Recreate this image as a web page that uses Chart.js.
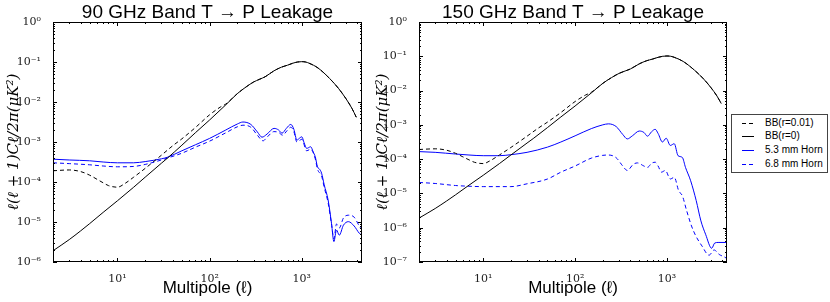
<!DOCTYPE html>
<html>
<head>
<meta charset="utf-8">
<script src="https://cdn.jsdelivr.net/npm/chart.js@4.4.1/dist/chart.umd.min.js"></script>
<style>
html, body { margin: 0; padding: 0; background: #fff; }
#wrap { position: relative; width: 830px; height: 302px; overflow: hidden; }
#c90 { position: absolute; left: 0; top: 0; }
#c150 { position: absolute; left: 364px; top: 0; }
#legend { position: absolute; left: 731px; top: 114px; width: 95px; height: 57px; border: 1px solid #444; background: #fff;
  font-family: "Liberation Sans", Arial, sans-serif; font-size: 10px; color: #000; }
#legend .row { position: absolute; left: 0; height: 12px; line-height: 12px; white-space: nowrap; }
#legend .ln { position: absolute; left: 10px; top: 6px; width: 12px; height: 1px; }
#legend .tx { position: absolute; left: 33px; top: 0; }
</style>
</head>
<body>
<div id="wrap">
  <canvas id="c90" width="364" height="302"></canvas>
  <canvas id="c150" width="366" height="302"></canvas>
  <div id="legend"></div>
</div>
<script>
// Multipole range shared by both panels
var ELL_MIN = 2, ELL_MAX = 4500;

// BB(r=0): lensing B-modes, same in both panels
var ellBB0 = [2, 3, 4, 5, 7, 10, 15, 20, 30, 35, 50, 70, 100, 150, 200, 250, 300, 350, 400, 500, 600, 700, 800, 900, 1000, 1100, 1200, 1500, 2000, 2500, 3000, 3500, 3900];
var bbR0 = [1.91e-6, 3.63e-6, 6.03e-6, 9.12e-6, 1.74e-5, 3.39e-5, 7.41e-5, 1.32e-4, 2.95e-4, 3.98e-4, 8.32e-4, 1.70e-3, 3.55e-3, 8.51e-3,
  1.62e-2, 2.40e-2, 3.16e-2, 3.72e-2, 4.27e-2, 6.03e-2, 7.41e-2, 8.32e-2, 9.33e-2, 0.100, 0.102, 0.100, 9.33e-2, 7.08e-2, 3.89e-2, 2.19e-2, 1.23e-2, 6.92e-3, 4.17e-3];

// BB(r=0.01): lensing + tensor
var ellBB001 = [2, 3, 4, 5, 6, 7, 8, 10, 12, 15, 20, 30, 40, 50, 70, 100, 130, 150, 200, 250, 300, 350, 400, 500, 600, 700, 800, 900, 1000, 1100, 1200, 1500, 2000, 2500, 3000, 3500, 3900];
var bbR001 = [1.91e-4, 2.0e-4, 1.82e-4, 1.48e-4, 1.17e-4, 9.55e-5, 8.13e-5, 7.41e-5, 9.12e-5, 1.32e-4, 2.19e-4, 4.68e-4, 8.13e-4, 1.20e-3, 2.29e-3, 4.79e-3, 7.41e-3, 8.91e-3,
  1.62e-2, 2.40e-2, 3.16e-2, 3.72e-2, 4.27e-2, 6.03e-2, 7.41e-2, 8.32e-2, 9.33e-2, 0.100, 0.102, 0.100, 9.33e-2, 7.08e-2, 3.89e-2, 2.19e-2, 1.23e-2, 6.92e-3, 4.17e-3];

// 90 GHz leakage
var ell53at90 = [2, 3, 5, 7, 10, 15, 20, 30, 35, 50, 70, 100, 150, 200, 230, 280, 330, 370, 420, 500, 560, 610, 680, 760, 820, 885, 950, 1000, 1060, 1130, 1250, 1330, 1400, 1480, 1560, 1640, 1750, 1930, 2100, 2230, 2380, 2550, 2830, 3200, 3700, 4200, 4500];
var horn53at90 = [3.72e-4, 3.55e-4, 3.39e-4, 3.16e-4, 3.02e-4, 3.02e-4, 3.24e-4, 3.80e-4, 4.17e-4, 6.03e-4, 8.51e-4, 1.23e-3, 2.0e-3, 2.82e-3, 3.16e-3, 2.75e-3, 1.78e-3, 1.32e-3, 1.58e-3, 2.19e-3, 2.0e-3, 1.66e-3, 2.19e-3, 2.75e-3, 2.09e-3,
  1.12e-3, 1.26e-3, 1.35e-3, 9.55e-4, 6.92e-4, 7.59e-4, 5.62e-4, 4.27e-4, 2.40e-4, 2.09e-4, 1.66e-4, 8.51e-5, 3.55e-5, 9.33e-6, 3.24e-6, 6.31e-6, 4.68e-6, 8.32e-6, 1.02e-5, 7.94e-6, 5.25e-6, 4.68e-6];
var ell68at90 = [2, 3, 5, 7, 10, 15, 20, 30, 35, 50, 70, 100, 150, 200, 230, 280, 330, 380, 420, 500, 560, 620, 690, 760, 820, 885, 950, 1000, 1130, 1250, 1400, 1480, 1640, 1750, 1930, 2100, 2230, 2380, 2550, 2830, 3200, 3700, 4200, 4500];
var horn68at90 = [3.02e-4, 2.88e-4, 2.69e-4, 2.51e-4, 2.40e-4, 2.45e-4, 2.75e-4, 3.55e-4, 3.98e-4, 5.25e-4, 7.41e-4, 1.05e-3, 1.70e-3, 2.40e-3, 2.63e-3, 2.34e-3, 1.48e-3, 1.07e-3, 1.32e-3, 1.82e-3, 1.74e-3, 1.48e-3, 1.91e-3, 2.34e-3, 1.82e-3,
  1.0e-3, 1.10e-3, 1.17e-3, 6.03e-4, 6.61e-4, 3.80e-4, 2.09e-4, 1.41e-4, 7.41e-5, 3.02e-5, 8.91e-6, 3.80e-6, 8.91e-6, 7.08e-6, 1.26e-5, 1.48e-5, 1.32e-5, 7.94e-6, 6.31e-6];

// 150 GHz leakage
var ell53at150 = [2, 3, 5, 7, 10, 15, 20, 30, 50, 70, 100, 150, 200, 230, 280, 330, 370, 420, 500, 560, 614, 680, 744, 800, 893, 980, 1087, 1200, 1320, 1470, 1590, 1810, 2080, 2340, 2630, 3070, 3300, 3600, 4500];
var horn53at150 = [1.66e-4, 1.58e-4, 1.41e-4, 1.32e-4, 1.26e-4, 1.26e-4, 1.35e-4, 1.58e-4, 2.24e-4, 3.16e-4, 4.79e-4, 7.76e-4, 1.0e-3, 1.07e-3, 8.91e-4, 5.25e-4, 3.89e-4, 4.79e-4, 6.61e-4, 6.03e-4,
  4.68e-4, 6.31e-4, 7.41e-4, 5.62e-4, 3.16e-4, 4.07e-4, 2.51e-4, 2.82e-4, 1.26e-4, 1.12e-4, 5.75e-5, 2.34e-5, 6.17e-6, 1.58e-6, 6.46e-7, 2.51e-7, 3.55e-7, 3.72e-7, 3.72e-7];
var ell68at150 = [2, 3, 5, 7, 10, 20, 30, 50, 70, 100, 150, 200, 230, 280, 330, 370, 430, 477, 560, 614, 680, 744, 800, 870, 960, 1087, 1200, 1340, 1470, 1640, 1850, 2060, 2400, 2870, 3260, 3700, 4200, 4500];
var horn68at150 = [2.09e-5, 1.95e-5, 1.70e-5, 1.62e-5, 1.58e-5, 1.58e-5, 1.91e-5, 2.63e-5, 4.17e-5, 6.31e-5, 1.07e-4, 1.29e-4, 1.32e-4, 1.10e-4, 6.31e-5, 4.68e-5, 7.08e-5, 7.76e-5, 6.31e-5,
  5.75e-5, 7.59e-5, 8.13e-5, 6.31e-5, 4.17e-5, 4.68e-5, 2.63e-5, 2.95e-5, 1.20e-5, 8.51e-6, 3.09e-6, 1.12e-6, 5.75e-7, 2.95e-7, 1.58e-7, 2.24e-7, 1.66e-7, 1.41e-7, 1.26e-7];

var LABELS = ["BB(r=0.01)", "BB(r=0)", "5.3 mm Horn", "6.8 mm Horn"];
var COLORS = ["#000000", "#000000", "#0000ff", "#0000ff"];
var DASHED = [true, false, false, true];

var SUP = { "-": "\u207b", "0": "\u2070", "1": "\u00b9", "2": "\u00b2", "3": "\u00b3", "4": "\u2074", "5": "\u2075", "6": "\u2076", "7": "\u2077", "8": "\u2078", "9": "\u2079" };
function pow10Label(v) {
  var e = String(Math.round(Math.log10(v)));
  var s = "10";
  for (var i = 0; i < e.length; i++) s += SUP[e[i]];
  return s;
}
function decades(lo, hi) {
  var t = [];
  for (var e = lo; e <= hi; e++) t.push({ value: Math.pow(10, e) });
  return t;
}
function pairs(xs, ys) {
  return xs.map(function (x, i) { return { x: x, y: ys[i] }; });
}
function series(i, xs, ys) {
  return {
    label: LABELS[i], data: pairs(xs, ys),
    borderColor: COLORS[i], borderWidth: 1, borderDash: DASHED[i] ? [4, 3] : [],
    pointRadius: 0, fill: false, cubicInterpolationMode: "monotone"
  };
}

// inward ticks on all four sides plus the box frame, matplotlib style
var frameTicks = {
  id: "frameTicks",
  afterDatasetsDraw: function (chart) {
    var a = chart.chartArea, ctx = chart.ctx;
    var xs = chart.scales.x, ys = chart.scales.y;
    ctx.save();
    ctx.strokeStyle = "#000";
    ctx.lineWidth = 1;
    ctx.beginPath();
    function each(scale, cb) {
      var e0 = Math.floor(Math.log10(scale.min)), e1 = Math.ceil(Math.log10(scale.max));
      for (var e = e0; e <= e1; e++) {
        for (var m = 1; m < 10; m++) {
          var v = m * Math.pow(10, e);
          if (v < scale.min * 0.999 || v > scale.max * 1.001) continue;
          cb(Math.round(scale.getPixelForValue(v)) + 0.5, m === 1 ? 4 : 2);
        }
      }
    }
    each(xs, function (p, len) {
      ctx.moveTo(p, a.bottom); ctx.lineTo(p, a.bottom - len);
      ctx.moveTo(p, a.top); ctx.lineTo(p, a.top + len);
    });
    each(ys, function (p, len) {
      ctx.moveTo(a.left, p); ctx.lineTo(a.left + len, p);
      ctx.moveTo(a.right, p); ctx.lineTo(a.right - len, p);
    });
    ctx.stroke();
    ctx.strokeRect(Math.round(a.left) + 0.5, Math.round(a.top) + 0.5, Math.round(a.width) - 1, Math.round(a.height) - 1);
    ctx.restore();
  }
};

function makeChart(id, title, yMinExp, datasets, yAxisW, padRight, yTitlePad) {
  return new Chart(document.getElementById(id), {
    type: "line",
    data: { datasets: datasets },
    options: {
      responsive: false, animation: false, events: [],
      layout: { padding: { left: 0, right: padRight, top: 0, bottom: 0 } },
      plugins: {
        legend: { display: false },
        tooltip: { enabled: false },
        title: {
          display: true, text: title, fullSize: false, color: "#000",
          font: { family: "'Liberation Sans', Arial, sans-serif", size: 19, weight: "normal", lineHeight: "19px" },
          padding: { top: 3, bottom: 0 }
        }
      },
      scales: {
        x: {
          type: "logarithmic", min: ELL_MIN, max: ELL_MAX,
          afterFit: function (s) { s.height = 40; },
          afterBuildTicks: function (s) { s.ticks = decades(1, 3); },
          grid: { display: false }, border: { display: false },
          ticks: { callback: pow10Label, autoSkip: false, maxRotation: 0, padding: 3, color: "#222",
            font: { family: "'DejaVu Serif', serif", size: 11 } },
          title: { display: true, text: "Multipole (\u2113)", color: "#000",
            font: { family: "'Liberation Sans', Arial, sans-serif", size: 17 }, padding: { top: 0, bottom: 3 } }
        },
        y: {
          type: "logarithmic", min: Math.pow(10, yMinExp), max: 1,
          afterFit: function (s) { s.width = yAxisW; },
          afterBuildTicks: function (s) { s.ticks = decades(yMinExp, 0); },
          grid: { display: false }, border: { display: false },
          ticks: { callback: pow10Label, autoSkip: false, padding: 4, color: "#222",
            font: { family: "'DejaVu Serif', serif", size: 11 } },
          title: { display: true, text: "\u2113(\u2113 + 1)C\u2113/2\u03c0(\u03bcK\u00b2)", color: "#000",
            font: { family: "'DejaVu Serif', serif", size: 15, style: "italic" }, padding: { top: yTitlePad, bottom: 0 } }
        }
      }
    },
    plugins: [frameTicks]
  });
}

makeChart("c90", "90 GHz Band T \u2192 P Leakage", -6, [
  series(0, ellBB001, bbR001),
  series(1, ellBB0, bbR0),
  series(2, ell53at90, horn53at90),
  series(3, ell68at90, horn68at90)
], 53, 2, 5);

makeChart("c150", "150 GHz Band T \u2192 P Leakage", -7, [
  series(0, ellBB001, bbR001),
  series(1, ellBB0, bbR0),
  series(2, ell53at150, horn53at150),
  series(3, ell68at150, horn68at150)
], 55, 3, 10);

// legend box on the right
(function () {
  var box = document.getElementById("legend");
  var rowsTop = [2, 15, 28.5, 42.5];
  for (var i = 0; i < LABELS.length; i++) {
    var row = document.createElement("div");
    row.className = "row";
    row.style.top = rowsTop[i] + "px";
    var ln = document.createElement("span");
    ln.className = "ln";
    ln.style.background = DASHED[i]
      ? "repeating-linear-gradient(to right," + COLORS[i] + " 0 4px, transparent 4px 7px)"
      : COLORS[i];
    var tx = document.createElement("span");
    tx.className = "tx";
    tx.textContent = LABELS[i];
    row.appendChild(ln);
    row.appendChild(tx);
    box.appendChild(row);
  }
})();
</script>
</body>
</html>
